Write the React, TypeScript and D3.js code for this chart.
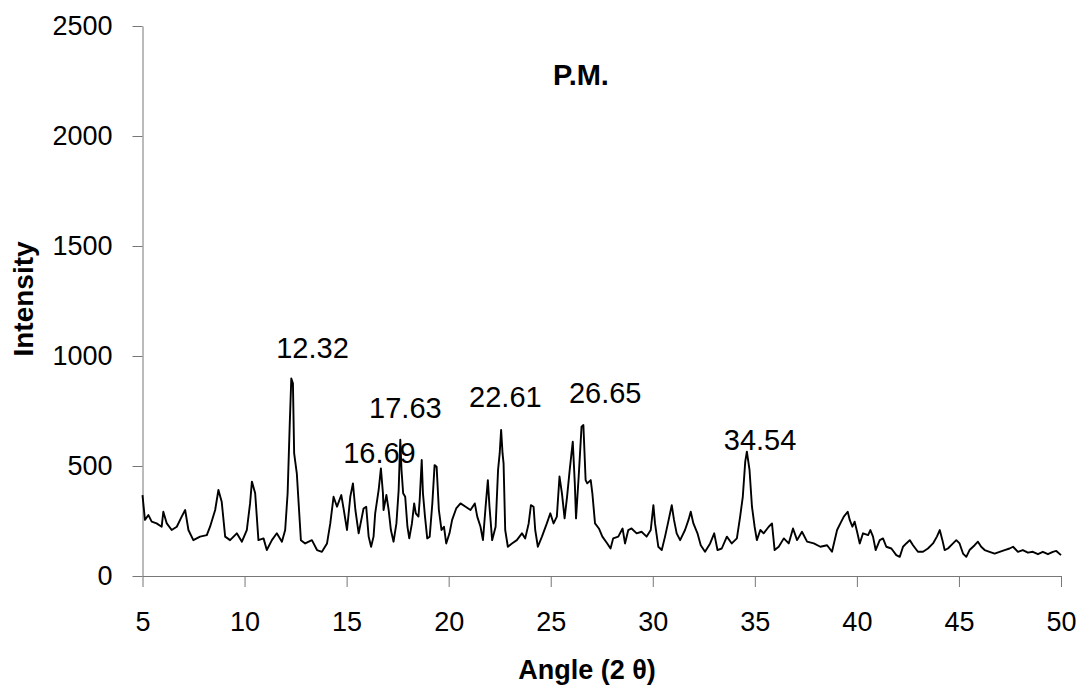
import React from "react"
import * as d3 from "d3"

// diffractogram: angle (2 theta) and intensity
const angle = [
  5.0, 5.12, 5.29, 5.45, 5.69, 5.94, 6.02, 6.19, 6.43, 6.68, 6.92, 7.09, 7.25, 7.49, 7.82, 8.15, 8.31, 8.56, 8.72, 8.88,
  9.05, 9.29, 9.62, 9.87, 10.11, 10.27, 10.36, 10.52, 10.68, 10.93, 11.09, 11.34, 11.58, 11.83, 11.99, 12.11, 12.21, 12.29, 12.37, 12.43,
  12.56, 12.65, 12.76, 12.97, 13.3, 13.55, 13.79, 14.04, 14.2, 14.36, 14.53, 14.74, 14.85, 15.02, 15.18, 15.31, 15.43, 15.59, 15.83, 15.96,
  16.08, 16.2, 16.32, 16.4, 16.57, 16.68, 16.78, 16.81, 16.95, 17.06, 17.17, 17.3, 17.44, 17.55, 17.63, 17.69, 17.77, 17.87, 17.98, 18.07,
  18.2, 18.31, 18.39, 18.52, 18.58, 18.68, 18.74, 18.84, 18.95, 19.07, 19.2, 19.31, 19.41, 19.52, 19.65, 19.77, 19.88, 20.04, 20.17, 20.37,
  20.58, 20.83, 21.07, 21.28, 21.4, 21.56, 21.68, 21.81, 21.92, 22.0, 22.13, 22.3, 22.42, 22.5, 22.57, 22.64, 22.69, 22.77, 22.9, 23.1,
  23.34, 23.59, 23.75, 23.92, 24.03, 24.16, 24.24, 24.37, 24.57, 24.81, 24.98, 25.14, 25.3, 25.43, 25.55, 25.68, 25.8, 25.93, 26.08, 26.18,
  26.24, 26.37, 26.51, 26.6, 26.71, 26.79, 26.96, 27.04, 27.17, 27.36, 27.53, 27.77, 27.93, 28.06, 28.31, 28.52, 28.64, 28.8, 28.96, 29.21,
  29.45, 29.7, 29.9, 30.03, 30.11, 30.27, 30.44, 30.6, 30.76, 30.93, 31.04, 31.17, 31.34, 31.58, 31.75, 31.86, 31.99, 32.19, 32.35, 32.56,
  32.81, 33.01, 33.17, 33.38, 33.63, 33.87, 34.12, 34.28, 34.41, 34.53, 34.61, 34.74, 34.86, 34.99, 35.1, 35.27, 35.43, 35.68, 35.84, 35.97,
  36.17, 36.42, 36.66, 36.87, 37.07, 37.31, 37.56, 37.89, 38.21, 38.54, 38.78, 39.03, 39.19, 39.36, 39.55, 39.65, 39.78, 39.89, 40.01, 40.14,
  40.3, 40.55, 40.66, 40.79, 40.92, 41.12, 41.28, 41.44, 41.69, 41.93, 42.1, 42.26, 42.42, 42.59, 42.75, 42.99, 43.24, 43.48, 43.73, 43.92,
  44.06, 44.19, 44.3, 44.46, 44.71, 44.87, 45.03, 45.2, 45.36, 45.52, 45.77, 45.93, 46.09, 46.26, 46.5, 46.75, 46.99, 47.24, 47.48, 47.65,
  47.89, 48.13, 48.38, 48.62, 48.87, 49.11, 49.36, 49.6, 49.77, 50.0,
]
const intensity = [
  368, 255, 277, 247, 239, 224, 292, 239, 209, 224, 270, 300, 209, 163, 179, 186, 224, 300, 391, 338,
  179, 163, 194, 156, 209, 330, 429, 376, 163, 171, 118, 163, 194, 156, 209, 376, 679, 898, 876, 557,
  467, 330, 163, 148, 163, 118, 110, 148, 239, 360, 315, 368, 307, 209, 360, 421, 300, 194, 307, 315,
  179, 133, 179, 285, 391, 489, 376, 300, 368, 300, 209, 156, 239, 391, 620, 482, 376, 360, 224, 171,
  239, 330, 285, 270, 345, 527, 376, 270, 171, 179, 330, 504, 497, 300, 209, 224, 148, 194, 255, 307,
  330, 315, 300, 330, 270, 224, 163, 315, 436, 315, 163, 224, 482, 557, 664, 557, 512, 209, 133, 148,
  163, 194, 171, 239, 322, 315, 209, 133, 179, 239, 285, 239, 270, 452, 376, 262, 360, 482, 611, 421,
  262, 452, 679, 686, 436, 421, 436, 376, 239, 216, 179, 148, 125, 171, 179, 216, 148, 209, 216, 194,
  201, 179, 209, 322, 239, 133, 118, 179, 247, 322, 255, 194, 163, 209, 255, 292, 239, 194, 140, 110,
  148, 194, 118, 125, 179, 148, 171, 270, 360, 520, 565, 482, 315, 224, 163, 209, 194, 224, 239, 118,
  133, 171, 148, 216, 163, 201, 156, 148, 133, 140, 110, 209, 239, 270, 292, 255, 224, 247, 201, 148,
  194, 186, 209, 179, 118, 163, 171, 133, 125, 95, 87, 133, 148, 163, 140, 110, 110, 125, 148, 179,
  209, 163, 118, 125, 148, 163, 148, 102, 87, 118, 140, 156, 133, 118, 110, 102, 110, 118, 125, 133,
  110, 118, 106, 110, 99, 110, 99, 110, 114, 95,
]

const xTicks = [5, 10, 15, 20, 25, 30, 35, 40, 45, 50]
const yTicks = [0, 500, 1000, 1500, 2000, 2500]

// peak annotations: text, and where the text starts / sits (data units)
const peakLabels = ["12.32", "16.69", "17.63", "22.61", "26.65", "34.54"]
const labelAngle = [11.55, 14.83, 16.1, 21.0, 25.89, 33.48]
const labelIntensity = [990, 514, 718, 768, 786, 573]

const font = "'Liberation Sans', Arial, sans-serif"

export default function App() {
  const ref = React.useRef<SVGSVGElement>(null)

  React.useEffect(() => {
    document.body.style.margin = "0"
    const width = 1087
    const height = 692

    const x = d3.scaleLinear().domain([5, 50]).range([142.5, 1061])
    const y = d3.scaleLinear().domain([0, 2500]).range([576, 26])

    const svg = d3.select(ref.current)
    svg.selectAll("*").remove()
    svg.attr("width", width).attr("height", height).style("background", "#fff")

    const axisColor = "#777"

    // y axis
    svg
      .append("g")
      .attr("transform", `translate(${x(5)},0)`)
      .call(
        d3.axisLeft(y).tickValues(yTicks).tickFormat(d3.format("d")).tickSizeInner(10).tickSizeOuter(0).tickPadding(20)
      )
      .call((g) => g.selectAll("path,line").attr("stroke", axisColor))
      .call((g) => g.selectAll("text").attr("font-size", 27).attr("font-family", font).attr("fill", "#000"))

    // x axis
    svg
      .append("g")
      .attr("transform", `translate(0,${y(0)})`)
      .call(d3.axisBottom(x).tickValues(xTicks).tickSizeInner(11).tickSizeOuter(0).tickPadding(25))
      .call((g) => g.selectAll("path,line").attr("stroke", axisColor))
      .call((g) => g.selectAll("text").attr("font-size", 27).attr("font-family", font).attr("fill", "#000"))

    const points: [number, number][] = angle.map((a, i) => [a, intensity[i]])

    const line = d3
      .line<[number, number]>()
      .x((d) => x(d[0]))
      .y((d) => y(d[1]))

    svg
      .append("path")
      .datum(points)
      .attr("fill", "none")
      .attr("stroke", "#000")
      .attr("stroke-width", 1.9)
      .attr("stroke-linejoin", "round")
      .attr("d", line)

    // peak labels
    svg
      .selectAll("text.peak")
      .data(peakLabels)
      .enter()
      .append("text")
      .attr("class", "peak")
      .attr("x", (d, i) => x(labelAngle[i]))
      .attr("y", (d, i) => y(labelIntensity[i]))
      .attr("font-size", 29)
      .attr("font-family", font)
      .text((d) => d)

    svg
      .append("text")
      .attr("x", 581)
      .attr("y", 85)
      .attr("text-anchor", "middle")
      .attr("font-size", 29)
      .attr("font-weight", "bold")
      .attr("font-family", font)
      .text("P.M.")

    svg
      .append("text")
      .attr("x", 587)
      .attr("y", 679)
      .attr("text-anchor", "middle")
      .attr("font-size", 27)
      .attr("font-weight", "bold")
      .attr("font-family", font)
      .text("Angle (2 θ)")

    svg
      .append("text")
      .attr("transform", "translate(33,299) rotate(-90)")
      .attr("text-anchor", "middle")
      .attr("font-size", 28)
      .attr("font-weight", "bold")
      .attr("font-family", font)
      .text("Intensity")
  }, [])

  return <svg ref={ref} style={{ display: "block" }} />
}
